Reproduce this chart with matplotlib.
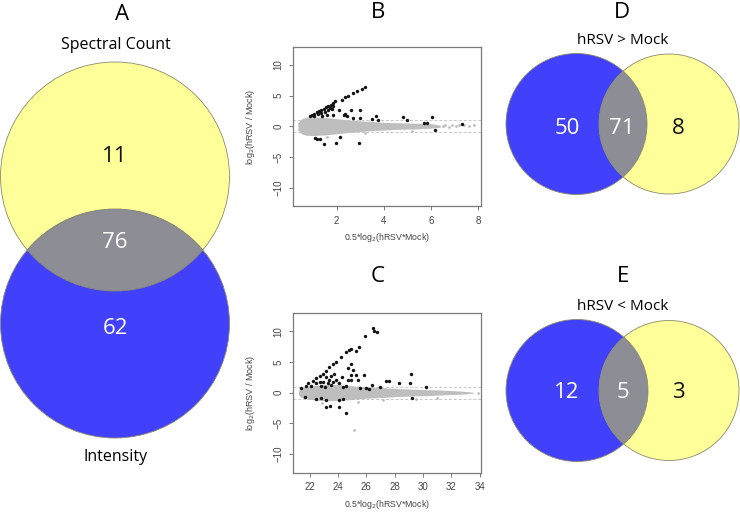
import matplotlib
matplotlib.use("Agg")
import matplotlib.pyplot as plt
import matplotlib.patches as mpatches

plt.rcParams["font.family"] = ["Open Sans", "DejaVu Sans"]

# ---- Venn counts (only-first, overlap, only-second) ----
venn_a = [11, 76, 62]          # Spectral Count only, both, Intensity only
venn_d = [50, 71, 8]           # blue only, both, yellow only
venn_e = [12, 5, 3]
venn_a_labels = ["Spectral Count", "Intensity"]
venn_d_title = "hRSV > Mock"
venn_e_title = "hRSV < Mock"

# ---- MA plot B: dense cloud envelope + highlighted proteins ----
b_band_x = [0.35, 0.5, 0.7, 1.0, 1.5, 2.0, 2.5, 3.0, 3.5, 4.0, 4.5, 5.0, 5.5, 6.0, 6.4]
b_band_hi = [0.6, 1.2, 1.5, 1.55, 1.45, 1.25, 1.05, 0.9, 0.8, 0.65, 0.6, 0.55, 0.5, 0.45, 0.2]
b_band_lo = [-0.6, -1.2, -1.45, -1.5, -1.4, -1.2, -1.0, -0.85, -0.7, -0.6, -0.5, -0.45, -0.4, -0.3, -0.15]
b_grey_x = [6.5, 6.6, 6.75, 6.9, 7.05, 7.2, 7.4, 7.6, 7.85, 5.2, 3.2, 1.6]
b_grey_y = [0.1, 0.3, -0.1, 0.2, 0.0, 0.25, 0.3, 0.1, 0.2, -0.7, -1.1, -1.7]
b_x = [0.87, 0.95, 1.05, 1.15, 1.25, 1.35, 1.45, 1.55, 1.65, 1.75, 1.85, 1.93,
       2.21, 2.35, 2.5, 2.71, 2.85, 3.06, 3.2,
       1.05, 1.2, 1.35, 1.5, 1.65, 1.8, 1.36, 1.57, 1.86,
       1.71, 1.83, 2.11, 2.35, 2.6, 3.0, 2.3, 2.45, 2.7, 3.0, 3.49, 3.67, 3.75,
       4.83, 5.0, 5.72, 5.85, 6.04, 6.18, 7.32,
       1.08, 1.17, 1.3, 1.47, 1.97, 2.14, 2.96]
b_y = [1.74, 1.9, 2.1, 2.3, 2.5, 2.7, 2.9, 3.1, 3.3, 3.5, 3.75, 4.06,
       4.33, 4.77, 5.0, 5.42, 5.7, 6.06, 6.4,
       1.75, 1.95, 2.15, 2.4, 2.6, 2.85, 1.74, 1.9, 1.9,
       2.98, 3.36, 2.6, 2.06, 2.6, 2.6, 1.8, 1.7, 1.35, 1.3, 1.25, 1.74, 1.1,
       1.5, 0.97, 0.55, 0.55, 1.46, -0.55, 0.4,
       -1.9, -2.05, -2.0, -2.8, -2.7, -1.75, -2.7]

# ---- MA plot C ----
c_band_x = [21.2, 21.4, 21.7, 22.0, 22.5, 23.0, 24.0, 25.0, 26.0, 27.0, 28.0, 29.0, 30.0, 31.0, 32.0, 33.0, 33.6]
c_band_hi = [0.3, 0.8, 1.0, 1.1, 1.2, 1.35, 1.3, 1.1, 0.95, 0.85, 0.7, 0.6, 0.5, 0.45, 0.35, 0.2, 0.05]
c_band_lo = [-0.3, -0.8, -1.0, -1.1, -1.2, -1.3, -1.25, -1.1, -0.9, -0.8, -0.65, -0.55, -0.5, -0.4, -0.3, -0.2, -0.05]
c_grey_x = [25.15, 22.9, 25.4, 27.2, 29.5, 31.0, 33.9, 24.0]
c_grey_y = [-6.07, -1.6, -1.5, -1.2, -1.0, -0.8, 0.0, 1.6]
c_x = [21.42, 21.77, 21.9, 22.23, 22.47, 22.7, 22.93, 23.17, 23.4, 23.63, 23.87,
       24.22, 24.57, 24.76, 24.92, 25.26, 25.45, 25.92, 26.48, 26.55, 26.79,
       22.12, 22.47, 22.7, 22.82, 22.93, 23.17, 23.28, 23.4, 23.52, 23.63, 23.75,
       23.87, 24.05, 23.52, 23.05, 24.33, 24.68, 24.92,
       24.92, 24.69, 25.03, 25.26, 25.81, 25.41, 24.95, 24.3, 25.96, 26.2,
       27.4, 27.58, 28.32, 29.14, 29.07, 29.23, 30.2, 24.57, 25.57, 26.43, 27.0,
       21.65, 22.42, 22.82, 23.17, 23.12, 23.45, 24.1, 24.1, 24.33, 24.57]
c_y = [0.7, 1.09, 1.52, 1.96, 2.33, 2.71, 3.04, 3.58, 4.23, 4.67, 5.05,
       5.86, 6.67, 6.94, 7.05, 6.8, 7.47, 9.2, 10.45, 10.07, 9.8,
       1.09, 1.52, 1.79, 1.09, 1.79, 2.5, 1.52, 2.07, 2.71, 1.79, 3.04,
       2.07, 1.52, 1.25, 0.87, 0.87, 2.07, 2.87,
       4.67, 3.96, 3.69, 2.87, 2.89, 2.06, 2.06, 2.6, 0.7, 0.54,
       1.9, 1.9, 1.63, 3.04, 1.52, -0.92, 1.0, 1.09, 0.7, 1.25, 0.9,
       -0.64, -1.08, -0.91, -1.18, -2.37, -2.1, -2.26, -1.18, -1.08, -3.24]

BLUE = "#4141fb"
YELLOW = "#ffff9a"
GREY = "#8d8d95"
EDGE = "#8a8a6a"
R_FONT = ["Liberation Sans", "DejaVu Sans"]

fig = plt.figure(figsize=(7.4, 5.12), dpi=100)
fig.patch.set_facecolor("white")

# overlay axes in pixel units for the Venn panels
ov = fig.add_axes([0, 0, 1, 1])
ov.set_xlim(0, 740)
ov.set_ylim(512, 0)
ov.axis("off")


def venn(ax, c1, r1, col1, c2, r2, col2, counts, pos, txtcols):
    p1 = mpatches.Circle(c1, r1, facecolor=col1, edgecolor="none")
    p2 = mpatches.Circle(c2, r2, facecolor=col2, edgecolor="none")
    ax.add_patch(p1)
    ax.add_patch(p2)
    lens = mpatches.Circle(c2, r2, facecolor=GREY, edgecolor="none")
    ax.add_patch(lens)
    lens.set_clip_path(p1)
    for c, r in [(c1, r1), (c2, r2)]:
        ax.add_patch(mpatches.Circle(c, r, fill=False, edgecolor=EDGE, lw=0.6))
    for n, (x, y), tc in zip(counts, pos, txtcols):
        ax.text(x, y, str(n), fontsize=16, color=tc, ha="center", va="center")


# A: Spectral Count (top, yellow) vs Intensity (bottom, blue)
venn(ov, (115, 176.5), 114.5, YELLOW, (115, 323.5), 114.5, BLUE,
     venn_a, [(115, 157), (115, 242), (115, 328)], ["#111111", "white", "white"])
ov.text(122, 14, "A", fontsize=16, ha="center", va="center")
ov.text(116, 45, venn_a_labels[0], fontsize=11.5, ha="center", va="center")
ov.text(116, 457, venn_a_labels[1], fontsize=11.5, ha="center", va="center")

# D and E
venn(ov, (576.5, 124), 70.5, BLUE, (669, 124), 70, YELLOW,
     venn_d, [(567, 128), (622, 128), (678, 128)], ["white", "white", "#111111"])
ov.text(622, 13, "D", fontsize=16, ha="center", va="center")
ov.text(623, 40, venn_d_title, fontsize=11, ha="center", va="center")

venn(ov, (577, 390.5), 71, BLUE, (669, 390.5), 70, YELLOW,
     venn_e, [(567, 393), (623, 393), (678, 393)], ["white", "white", "#111111"])
ov.text(623, 276, "E", fontsize=16, ha="center", va="center")
ov.text(623, 307, venn_e_title, fontsize=11, ha="center", va="center")

ov.text(378, 12, "B", fontsize=16, ha="center", va="center")
ov.text(378, 276, "C", fontsize=16, ha="center", va="center")


def ma_plot(rect, bx, bhi, blo, gx, gy, px, py, xlim, xticks):
    ax = fig.add_axes(rect)
    ax.fill_between(bx, blo, bhi, color="#bebebe", lw=0, zorder=2)
    ax.scatter(gx, gy, s=4, color="#bebebe", lw=0, zorder=2)
    for yv in (1, -1):
        ax.axhline(yv, color="#c8c8c8", lw=0.7, ls=(0, (3, 2)), zorder=1)
    ax.scatter(px, py, s=6, color="#111111", lw=0, zorder=3)
    ax.set_xlim(*xlim)
    ax.set_ylim(-13, 13)
    ax.set_xticks(xticks)
    ax.set_yticks([-10, -5, 0, 5, 10])
    for s in ax.spines.values():
        s.set_color("#7a7a7a")
        s.set_linewidth(0.9)
    ax.tick_params(length=3, width=0.7, colors="#7a7a7a", labelcolor="#444444",
                   labelsize=7)
    ax.tick_params(axis="y", pad=3.5)
    ax.tick_params(axis="x", pad=4)
    for lab in ax.get_xticklabels() + ax.get_yticklabels():
        lab.set_family(R_FONT)
    plt.setp(ax.get_yticklabels(), rotation=90, va="center")
    ax.set_ylabel("log$_2$(hRSV / Mock)", fontsize=6.5, color="#444444", family=R_FONT)
    ax.set_xlabel("0.5*log$_2$(hRSV*Mock)", fontsize=6.3, color="#444444", family=R_FONT)
    ax.yaxis.set_label_coords(-0.19, 0.5)
    ax.xaxis.set_label_coords(0.5, -0.16)
    return ax


ma_plot([0.3955, 0.5977, 0.2545, 0.311], b_band_x, b_band_hi, b_band_lo,
        b_grey_x, b_grey_y, b_x, b_y, (0.13, 8.13), [2, 4, 6, 8])
ma_plot([0.3955, 0.0768, 0.2545, 0.3125], c_band_x, c_band_hi, c_band_lo,
        c_grey_x, c_grey_y, c_x, c_y, (20.8, 34.1), [22, 24, 26, 28, 30, 32, 34])

fig.savefig("out.png", dpi=100)
